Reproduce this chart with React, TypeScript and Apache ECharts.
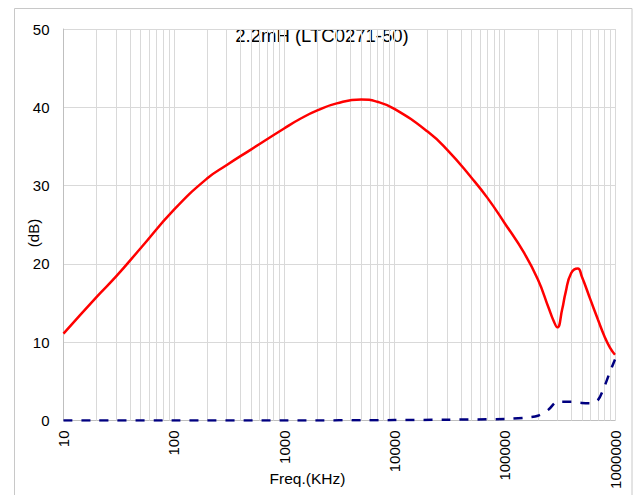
import React, { useEffect, useRef } from "react";
import * as echarts from "echarts";

const TITLE = "2.2mH (LTC0271-50)";
const X_NAME = "Freq.(KHz)";
const Y_NAME = "(dB)";

const redFreq = [10, 20, 30, 50, 100, 200, 300, 500, 1000, 1430, 2000, 3000, 5000, 7000, 10000, 20000, 30000, 50000, 70000, 100000, 150000, 200000, 250000, 278000, 300000, 332000, 356000, 400000, 460000, 500000, 600000, 700000, 800000, 900000, 1000000];
const redDb = [11.1, 15.8, 18.4, 22.0, 26.9, 30.9, 32.6, 34.6, 37.3, 38.6, 39.6, 40.5, 41.0, 40.7, 39.8, 36.9, 34.6, 31.0, 28.4, 25.2, 21.4, 18.0, 14.4, 12.7, 11.9, 14.2, 16.3, 18.8, 19.4, 18.4, 15.4, 12.9, 10.8, 9.3, 8.4];

const blueFreq = [10, 100, 1000, 10000, 30000, 100000, 150000, 200000, 250000, 300000, 400000, 500000, 600000, 700000, 800000, 900000, 1000000];
const blueDb = [0, 0, 0, 0.05, 0.1, 0.2, 0.35, 0.6, 1.4, 2.4, 2.4, 2.25, 2.2, 2.6, 4.3, 6.2, 7.8];

const minorGridFreq: number[] = [];
for (let d = 10; d < 1000000; d *= 10) {
  for (let k = 2; k <= 9; k++) minorGridFreq.push(k * d);
}

export default function App() {
  const ref = useRef<HTMLDivElement>(null);
  useEffect(() => {
    if (!ref.current) return;
    const chart = echarts.init(ref.current, undefined, { renderer: "svg" });
    const font = "'Liberation Sans', Arial, sans-serif";
    const grid = "#d9d9d9";
    chart.setOption({
      animation: false,
      backgroundColor: "#fff",
      textStyle: { fontFamily: font },
      grid: { left: 63.5, right: 23, top: 29, bottom: 74.5, containLabel: false },
      graphic: [
        {
          type: "rect",
          shape: { x: 14.5, y: 8.5, width: 617.5, height: 500 },
          style: { fill: "none", stroke: "#c8c8c8", lineWidth: 1 },
          silent: true,
          z: -1,
        },
        {
          type: "text",
          x: 322,
          y: 35,
          style: { text: TITLE, font: `18.5px ${font}`, fill: "#000", align: "center", verticalAlign: "middle" },
        },
        {
          type: "text",
          x: 307.5,
          y: 478,
          style: { text: X_NAME, font: `15.5px ${font}`, fill: "#000", align: "center", verticalAlign: "middle" },
        },
        {
          type: "text",
          x: 33,
          y: 233,
          rotation: Math.PI / 2,
          style: { text: Y_NAME, font: `15px ${font}`, fill: "#000", align: "center", verticalAlign: "middle" },
        },
      ],
      xAxis: {
        type: "log",
        logBase: 10,
        min: 10,
        max: 1000000,
        axisLine: { show: true, lineStyle: { color: "#bfbfbf", width: 1 } },
        axisTick: { show: false },
        axisLabel: {
          rotate: 90,
          margin: 10,
          fontSize: 15,
          color: "#000",
          fontFamily: font,
          formatter: (v: number) => String(Math.round(v)),
        },
        splitLine: { show: true, lineStyle: { color: grid, width: 1 } },
      },
      yAxis: {
        type: "value",
        min: 0,
        max: 50,
        interval: 10,
        axisLine: { show: true, lineStyle: { color: "#bfbfbf", width: 1 } },
        axisTick: { show: false },
        axisLabel: { margin: 14, fontSize: 15, color: "#000", fontFamily: font },
        splitLine: { show: true, lineStyle: { color: grid, width: 1 } },
      },
      series: [
        {
          type: "line",
          name: "red",
          data: redFreq.map((f, i) => [f, redDb[i]]),
          smooth: 0.5,
          showSymbol: false,
          symbol: "none",
          lineStyle: { color: "#ff0000", width: 2.5 },
          z: 3,
          markLine: {
            silent: true,
            symbol: "none",
            z: 1,
            label: { show: false },
            lineStyle: { color: grid, width: 1, type: "solid" },
            data: minorGridFreq.map((f) => ({ xAxis: f })),
          },
        },
        {
          type: "line",
          name: "blue",
          data: blueFreq.map((f, i) => [f, blueDb[i]]),
          smooth: 0.3,
          showSymbol: false,
          symbol: "none",
          lineStyle: { color: "#000080", width: 2.5, type: [9, 9] },
          z: 4,
        },
      ],
    });
    return () => chart.dispose();
  }, []);
  return <div ref={ref} style={{ position: "fixed", left: 0, top: 0, width: 638, height: 495 }} />;
}
